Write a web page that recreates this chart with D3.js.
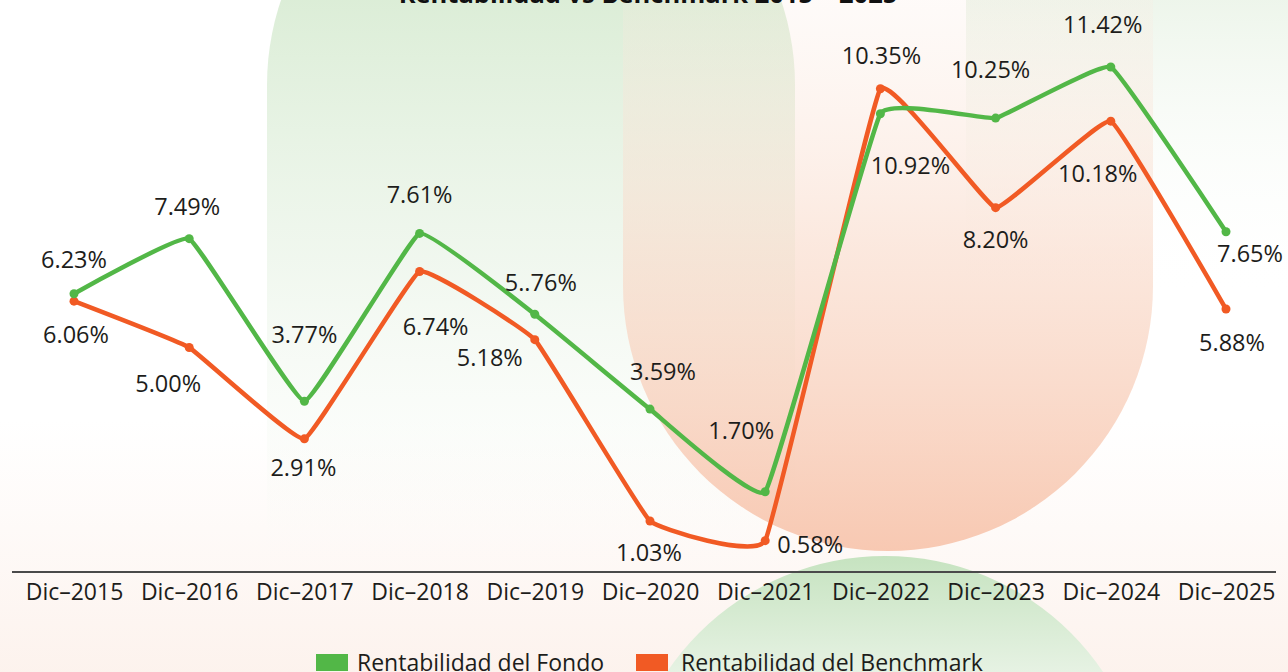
<!DOCTYPE html>
<html>
<head>
<meta charset="utf-8">
<script src="https://cdn.jsdelivr.net/npm/d3@7.9.0/dist/d3.min.js"></script>
<style>
  html, body { margin: 0; padding: 0; background: #fff; }
  svg { display: block; font-family: "Open Sans", sans-serif; }
</style>
</head>
<body>
<div id="chart"></div>
<script>
const title = 'Rentabilidad vs Benchmark 2015 – 2025';
const years = ['2015', '2016', '2017', '2018', '2019', '2020', '2021', '2022', '2023', '2024', '2025'];
const tickLabels = ['Dic–2015', 'Dic–2016', 'Dic–2017', 'Dic–2018', 'Dic–2019', 'Dic–2020',
  'Dic–2021', 'Dic–2022', 'Dic–2023', 'Dic–2024', 'Dic–2025'];

const fondo = [6.23, 7.49, 3.77, 7.61, 5.76, 3.59, 1.70, 10.35, 10.25, 11.42, 7.65];
const fondoLabels = ['6.23%', '7.49%', '3.77%', '7.61%', '5..76%', '3.59%', '1.70%', '10.35%', '10.25%', '11.42%', '7.65%'];

const bench = [6.06, 5.00, 2.91, 6.74, 5.18, 1.03, 0.58, 10.92, 8.20, 10.18, 5.88];
const benchLabels = ['6.06%', '5.00%', '2.91%', '6.74%', '5.18%', '1.03%', '0.58%', '10.92%', '8.20%', '10.18%', '5.88%'];

const seriesNames = ['Rentabilidad del Fondo', 'Rentabilidad del Benchmark'];

// label placement (offset of text anchor from its point)
const fondoOffsets = [[0, -26], [-2, -24], [0, -58], [0, -30], [6, -23], [13, -29], [-24, -53], [1, -50], [-5, -40], [-8, -34], [24, 30]];
const benchOffsets = [[2, 42], [-21, 44], [-1, 37], [16, 64], [-45, 26], [-1, 40], [45, 12], [30, 85], [0, 40], [-13, 61], [6, 42]];

const width = 1288, height = 672;
const green = '#52b747', orange = '#f15a24';

const svg = d3.select('#chart').append('svg')
  .attr('width', width)
  .attr('height', height);

// ---------- background shapes ----------
const defs = svg.append('defs');

function vGrad(id, stops, y1, y2) {
  const g = defs.append('linearGradient')
    .attr('id', id)
    .attr('gradientUnits', 'userSpaceOnUse')
    .attr('x1', 0).attr('x2', 0).attr('y1', y1).attr('y2', y2);
  stops.forEach(([o, c, a]) => g.append('stop').attr('offset', o).attr('stop-color', c).attr('stop-opacity', a));
}

vGrad('gGreenCap', [[0, '#d3e9cd', 0.8], [0.45, '#e4f1e1', 0.55], [0.85, '#f1f8ef', 0.15], [1, '#ffffff', 0]], 0, 580);
vGrad('gOrangeCap', [[0, '#fbe9df', 0.2], [0.45, '#f9d9c8', 0.6], [1, '#f7c2a9', 0.88]], 0, 550);
vGrad('gGreenCircle', [[0, '#c6e3c0', 1], [1, '#e6f2e3', 1]], 556, 672);
vGrad('gRightGreen', [[0, '#e9f3e6', 0.8], [1, '#ffffff', 0]], 0, 300);
vGrad('gBottomPeach', [[0, '#fdf3ee', 0], [1, '#fcf1eb', 0.9]], 420, 672);

const bg = svg.append('g').attr('class', 'background');
bg.append('rect').attr('x', 0).attr('y', 420).attr('width', width).attr('height', 252).attr('fill', 'url(#gBottomPeach)');
bg.append('rect').attr('x', 966).attr('y', 0).attr('width', width - 966).attr('height', 300).attr('fill', 'url(#gRightGreen)');
bg.append('rect')
  .attr('x', 267).attr('y', -179).attr('width', 528).attr('height', 1100)
  .attr('rx', 264).attr('fill', 'url(#gGreenCap)');
bg.append('rect')
  .attr('x', 623).attr('y', -600).attr('width', 530).attr('height', 1151)
  .attr('rx', 265).attr('fill', 'url(#gOrangeCap)');
bg.append('circle')
  .attr('cx', 885).attr('cy', 819).attr('r', 263)
  .attr('fill', 'url(#gGreenCircle)');

// ---------- scales ----------
const x = d3.scalePoint().domain(years).range([74, 1226]);
const y = d3.scaleLinear().domain([0, 12]).range([566, 41.6]);

// title (mostly above the frame)
svg.append('text')
  .attr('x', 648).attr('y', 3)
  .attr('text-anchor', 'middle')
  .attr('font-size', 25.5).attr('font-weight', 700)
  .attr('fill', '#111')
  .text(title);

// x axis
const xAxis = svg.append('g')
  .attr('transform', 'translate(0,572)')
  .call(d3.axisBottom(x).tickSize(0).tickPadding(12).tickFormat((d, i) => tickLabels[i]));
xAxis.select('.domain').remove();
xAxis.append('line')
  .attr('x1', 12).attr('x2', 1276)
  .attr('stroke', '#4a4a4a').attr('stroke-width', 2);
xAxis.selectAll('.tick text')
  .attr('font-family', '"Open Sans", sans-serif')
  .attr('font-size', 23)
  .attr('fill', '#1d1d1b')
  .attr('dy', '0.71em');

// ---------- lines ----------
const line = d3.line()
  .x((d, i) => x(years[i]))
  .y(d => y(d))
  .curve(d3.curveCardinal.tension(0.75));

const series = [
  { values: bench, labels: benchLabels, offsets: benchOffsets, color: orange },
  { values: fondo, labels: fondoLabels, offsets: fondoOffsets, color: green }
];

const plot = svg.append('g');
series.forEach(s => {
  plot.append('path')
    .datum(s.values)
    .attr('d', line)
    .attr('fill', 'none')
    .attr('stroke', s.color)
    .attr('stroke-width', 4.5)
    .attr('stroke-linejoin', 'round')
    .attr('stroke-linecap', 'round');

  plot.selectAll(null)
    .data(s.values)
    .join('circle')
    .attr('cx', (d, i) => x(years[i]))
    .attr('cy', d => y(d))
    .attr('r', 4.5)
    .attr('fill', s.color);
});

const labels = svg.append('g')
  .attr('font-size', 23.5)
  .attr('fill', '#1d1d1b')
  .attr('text-anchor', 'middle');
series.forEach(s => {
  labels.selectAll(null)
    .data(s.values)
    .join('text')
    .attr('x', (d, i) => x(years[i]) + s.offsets[i][0])
    .attr('y', (d, i) => y(d) + s.offsets[i][1])
    .text((d, i) => s.labels[i]);
});

// ---------- legend ----------
const legend = svg.append('g').attr('font-size', 23).attr('fill', '#1d1d1b');
const legendX = [316, 636];
[green, orange].forEach((c, i) => {
  legend.append('rect')
    .attr('x', legendX[i]).attr('y', 654)
    .attr('width', 32).attr('height', 17)
    .attr('fill', c);
  legend.append('text')
    .attr('x', legendX[i] + (i === 0 ? 41 : 45)).attr('y', 671)
    .text(seriesNames[i]);
});
</script>
</body>
</html>
